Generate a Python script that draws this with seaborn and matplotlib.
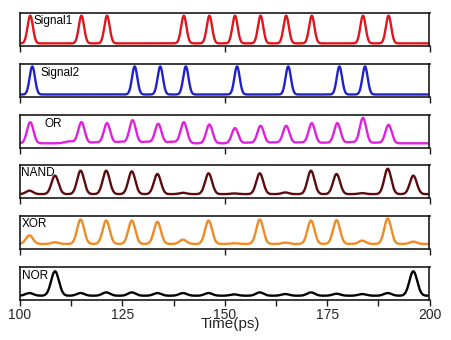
import numpy as np
import pandas as pd
import matplotlib
matplotlib.use("Agg")
import matplotlib.pyplot as plt
import seaborn as sns

# ---------------- data ----------------
SLOTS = [102.5, 108.75, 115.0, 121.25, 127.5, 133.75, 140.0, 146.25,
         152.5, 158.75, 165.0, 171.25, 177.5, 183.75, 190.0, 196.25]

NAMES = ["Signal1", "Signal2", "OR", "NAND", "XOR", "NOR"]

# peak level (normalised panel units) at each bit slot; baseline level per trace
SIGNAL1_PEAKS = [0.92, 0.08, 0.92, 0.92, 0.08, 0.08, 0.92, 0.92,
                 0.92, 0.92, 0.92, 0.92, 0.08, 0.92, 0.92, 0.08]
SIGNAL2_PEAKS = [0.92, 0.07, 0.07, 0.07, 0.92, 0.92, 0.92, 0.07,
                 0.92, 0.07, 0.92, 0.07, 0.92, 0.92, 0.07, 0.07]
OR_PEAKS = [0.77, 0.13, 0.77, 0.74, 0.83, 0.72, 0.77, 0.70,
            0.59, 0.66, 0.66, 0.74, 0.74, 0.90, 0.69, 0.13]
NAND_PEAKS = [0.235, 0.69, 0.84, 0.84, 0.82, 0.74, 0.17, 0.76,
              0.15, 0.76, 0.18, 0.84, 0.74, 0.16, 0.90, 0.69]
XOR_PEAKS = [0.42, 0.21, 0.90, 0.87, 0.87, 0.83, 0.29, 0.87,
             0.18, 0.90, 0.20, 0.87, 0.88, 0.26, 0.93, 0.23]
NOR_PEAKS = [0.21, 0.87, 0.21, 0.23, 0.23, 0.21, 0.21, 0.21,
             0.17, 0.23, 0.18, 0.23, 0.19, 0.18, 0.21, 0.87]

# small level between slots (after each slot)
OR_GAPS = [0.0, 0.06, 0.03, 0.05, 0.05, 0.05, 0.0, 0.0,
           0.02, 0.03, 0.03, 0.02, 0.04, 0.02, 0.0, 0.0]

BASELINES = [0.08, 0.07, 0.13, 0.13, 0.16, 0.13]
SHIFTS = [0.0, 0.5, 0.0, -0.2, -0.2, -0.2]
WIDTHS = [0.65, 0.65, 0.78, 0.85, 0.85, 0.95]
COLORS = ["#e0161c", "#1f22c8", "#e020e0", "#5c0b0e", "#f08a22", "#000000"]

X_TICKS = [100, 125, 150, 175, 200]
X_MINOR = [112.5, 137.5, 162.5, 187.5]

PEAKS = [SIGNAL1_PEAKS, SIGNAL2_PEAKS, OR_PEAKS, NAND_PEAKS, XOR_PEAKS, NOR_PEAKS]
GAPS = [None, None, OR_GAPS, None, None, None]

LABEL_POS = [(103.2, 0.76), (104.9, 0.73), (105.9, 0.73),
             (100.3, 0.76), (100.4, 0.77), (100.4, 0.73)]

# ---------------- figure ----------------
sns.set_style("white")
plt.rcParams["font.family"] = ["Liberation Sans", "DejaVu Sans"]

W, H = 452, 340
fig = plt.figure(figsize=(W / 100, H / 100), dpi=100)

t = np.linspace(100, 200, 2001)
left_px, right_px = 20, 429.5
for i, name in enumerate(NAMES):
    top_px = 13 + 50.8 * i
    h_px = 33
    ax = fig.add_axes([left_px / W, 1 - (top_px + h_px) / H,
                       (right_px - left_px) / W, h_px / H])
    base = BASELINES[i]
    y = np.full_like(t, base)
    for c, p in zip(SLOTS, PEAKS[i]):
        amp = max(p - base, 0)
        y += amp * np.exp(-((t - c - SHIFTS[i]) ** 2) / (2 * WIDTHS[i] ** 2))
    if GAPS[i] is not None:
        for c, g in zip(SLOTS, GAPS[i]):
            y += g * np.exp(-((t - c - 3.3) ** 2) / (2 * 1.1 ** 2))
    df = pd.DataFrame({"Time": t, "Value": y})
    sns.lineplot(data=df, x="Time", y="Value", ax=ax, color=COLORS[i],
                 lw=1.7, estimator=None)
    ax.set_xlim(100, 200)
    ax.set_ylim(0, 1)
    ax.set_yticks([])
    ax.set_xlabel("")
    ax.set_ylabel("")
    for s in ax.spines.values():
        s.set_visible(True)
        s.set_color("#1a1a1a")
        s.set_linewidth(1.2)
    lx, ly = LABEL_POS[i]
    ax.text(lx, ly, name, transform=ax.get_xaxis_transform(), fontsize=8.5,
            ha="left", va="center", color="black")
    if i < len(NAMES) - 1:
        ax.set_xticks([100, 150, 200])
        ax.set_xticklabels([])
        ax.tick_params(axis="x", direction="out", length=4, width=1,
                       color="#1a1a1a", bottom=True)
    else:
        ax.set_xticks(X_TICKS)
        ax.set_xticklabels([str(v) for v in X_TICKS])
        ax.set_xticks(X_MINOR, minor=True)
        ax.tick_params(axis="x", which="both", direction="out", length=4,
                       width=1, color="#1a1a1a", bottom=True, labelsize=10,
                       pad=2)

fig.text(230.5 / W, 1 - 324 / H, "Time(ps)", ha="center", va="center",
         fontsize=11)

fig.savefig("out.png", dpi=100, facecolor="white")
